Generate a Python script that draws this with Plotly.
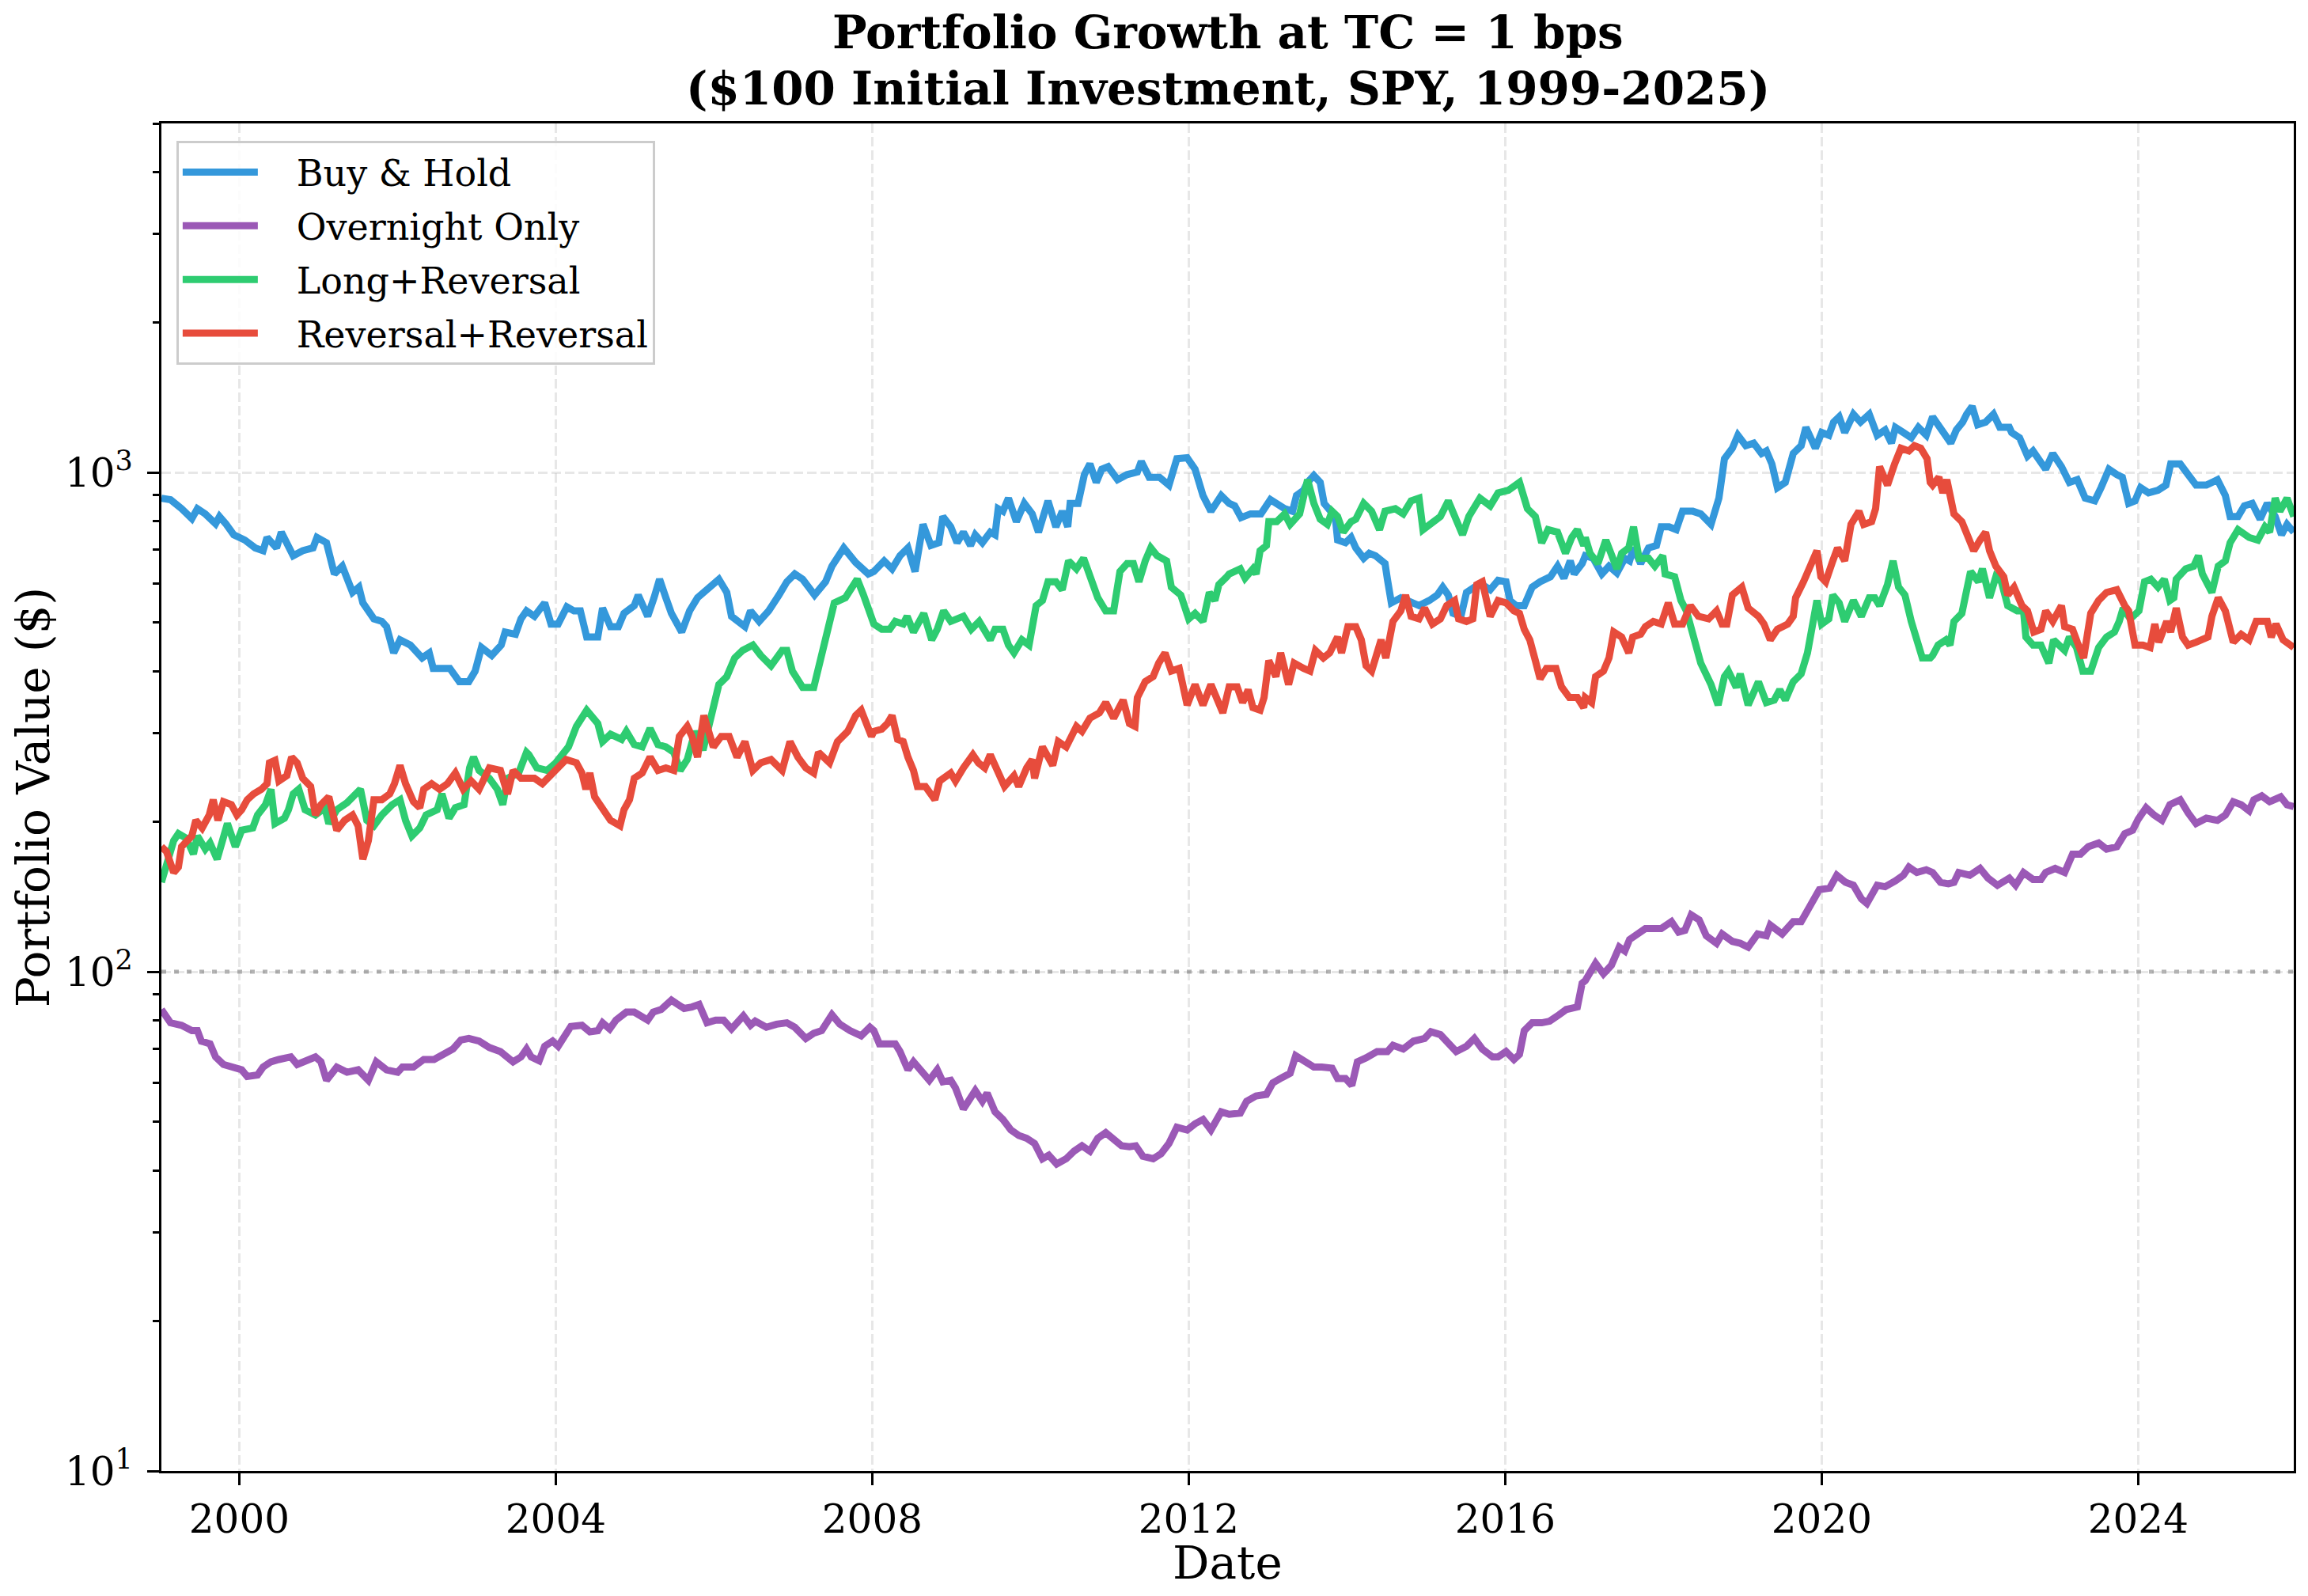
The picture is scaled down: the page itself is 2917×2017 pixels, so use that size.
import math
import pandas as pd
import plotly.graph_objects as go

# ---------------- data (decimal year, portfolio value $) ----------------
BUY_HOLD = [
    (1999.015, 888), (1999.13, 882), (1999.27, 846), (1999.40, 808), (1999.47, 846), (1999.57, 826), (1999.70, 789),
    (1999.75, 816), (1999.83, 789), (1999.93, 750), (2000.07, 732), (2000.20, 706), (2000.30, 697), (2000.35, 741),
    (2000.47, 706), (2000.53, 759), (2000.68, 681), (2000.80, 697), (2000.93, 706), (2000.98, 741), (2001.10, 723),
    (2001.20, 626), (2001.30, 649), (2001.43, 575), (2001.51, 589), (2001.56, 548), (2001.70, 509), (2001.80, 503),
    (2001.86, 491), (2001.95, 435), (2002.03, 462), (2002.16, 451), (2002.31, 425), (2002.40, 435), (2002.45, 405),
    (2002.56, 405), (2002.66, 405), (2002.78, 381), (2002.90, 381), (2002.98, 400), (2003.06, 446), (2003.19, 430),
    (2003.31, 451), (2003.36, 479), (2003.49, 474), (2003.56, 509), (2003.63, 528),
    (2003.73, 515), (2003.86, 548), (2003.94, 497), (2004.03, 497), (2004.14, 538), (2004.23, 528), (2004.31, 528),
    (2004.39, 468), (2004.53, 468), (2004.59, 535), (2004.69, 491), (2004.79, 491), (2004.86, 522), (2004.99, 541),
    (2005.04, 568), (2005.16, 515), (2005.24, 561), (2005.31, 611), (2005.39, 561), (2005.46, 522), (2005.59, 479),
    (2005.69, 528), (2005.79, 561), (2005.92, 582), (2006.06, 611), (2006.16, 575), (2006.22, 515), (2006.39, 491),
    (2006.46, 528), (2006.57, 503), (2006.69, 528), (2006.82, 568), (2006.92, 604), (2007.02, 626), (2007.12, 611),
    (2007.27, 568), (2007.41, 604), (2007.49, 649), (2007.64, 706), (2007.79, 660), (2007.95, 626),
    (2008.02, 633), (2008.15, 665), (2008.25, 641), (2008.35, 681), (2008.45, 706), (2008.54, 633), (2008.64, 787),
    (2008.74, 714), (2008.84, 723), (2008.89, 816), (2008.99, 778), (2009.07, 723), (2009.15, 759), (2009.24, 714),
    (2009.30, 750), (2009.39, 723), (2009.49, 759), (2009.55, 750), (2009.59, 846), (2009.65, 836), (2009.72, 888),
    (2009.82, 797), (2009.92, 867), (2010.02, 826), (2010.10, 759), (2010.22, 877), (2010.32, 778), (2010.40, 836),
    (2010.47, 778), (2010.50, 867), (2010.60, 867), (2010.68, 990), (2010.75, 1040), (2010.83, 955), (2010.90, 1015),
    (2010.98, 1027), (2011.10, 967), (2011.22, 990), (2011.35, 1002), (2011.40, 1052), (2011.50, 978), (2011.63, 978),
    (2011.75, 943), (2011.85, 1065), (2011.98, 1070), (2012.08, 1015), (2012.18, 899), (2012.28, 836), (2012.41, 899),
    (2012.51, 867), (2012.58, 857), (2012.66, 812), (2012.78, 826), (2012.91, 826), (2013.03, 882), (2013.10, 867),
    (2013.21, 846), (2013.31, 836), (2013.36, 899), (2013.45, 921), (2013.50, 955), (2013.58, 986), (2013.66, 955),
    (2013.71, 867), (2013.78, 836), (2013.85, 816), (2013.88, 732), (2013.98, 723), (2014.05, 741), (2014.11, 706),
    (2014.21, 673), (2014.28, 689), (2014.36, 681), (2014.48, 657), (2014.51, 611), (2014.56, 548), (2014.68, 561),
    (2014.81, 548), (2014.91, 541), (2015.04, 554), (2015.14, 568), (2015.21, 589), (2015.28, 568), (2015.34, 522),
    (2015.44, 515), (2015.51, 575), (2015.61, 589), (2015.71, 596), (2015.81, 582), (2015.91, 608), (2016.01, 604),
    (2016.06, 554), (2016.14, 541), (2016.24, 541), (2016.34, 589), (2016.44, 604), (2016.57, 618), (2016.66, 649),
    (2016.74, 614), (2016.82, 665), (2016.87, 626), (2016.97, 657),
    (2017.01, 681), (2017.11, 673), (2017.22, 626), (2017.31, 649), (2017.41, 629), (2017.51, 673), (2017.57, 665),
    (2017.62, 706), (2017.71, 657), (2017.81, 706), (2017.91, 714), (2017.97, 778), (2018.07, 778), (2018.16, 768),
    (2018.24, 836), (2018.37, 836), (2018.47, 826), (2018.60, 787), (2018.70, 888), (2018.77, 1065), (2018.87, 1118),
    (2018.94, 1187), (2019.04, 1131), (2019.14, 1145), (2019.24, 1091), (2019.30, 1104), (2019.37, 1040), (2019.44, 932),
    (2019.54, 955), (2019.64, 1091), (2019.74, 1131), (2019.80, 1231), (2019.92, 1118), (2020.00, 1202), (2020.09, 1187),
    (2020.15, 1261), (2020.22, 1292), (2020.29, 1202), (2020.40, 1308), (2020.49, 1261), (2020.60, 1308), (2020.70, 1187),
    (2020.80, 1216), (2020.88, 1145), (2020.93, 1231), (2021.03, 1202), (2021.13, 1173), (2021.22, 1231), (2021.32, 1187),
    (2021.40, 1292), (2021.47, 1246), (2021.55, 1202), (2021.63, 1145), (2021.70, 1216), (2021.78, 1261), (2021.83, 1308),
    (2021.90, 1356), (2021.97, 1246), (2022.07, 1261), (2022.17, 1308), (2022.25, 1231), (2022.37, 1231), (2022.40, 1202),
    (2022.50, 1173), (2022.60, 1078), (2022.67, 1104), (2022.77, 1040), (2022.83, 1015), (2022.92, 1091), (2023.03, 1027),
    (2023.13, 955), (2023.23, 967), (2023.33, 888), (2023.45, 877), (2023.53, 932), (2023.63, 1015), (2023.73, 990),
    (2023.80, 978), (2023.88, 867), (2023.96, 877), (2024.03, 932), (2024.13, 910), (2024.25, 921), (2024.35, 943),
    (2024.41, 1040), (2024.53, 1040), (2024.63, 990), (2024.73, 943), (2024.86, 943), (2025.00, 967), (2025.10, 899),
    (2025.16, 816), (2025.26, 816), (2025.34, 857), (2025.44, 867), (2025.54, 806), (2025.63, 867), (2025.73, 816),
    (2025.81, 750), (2025.88, 787), (2025.965, 759),
]

OVERNIGHT = [
    (1999.015, 84.0), (1999.13, 79.0), (1999.27, 78.1), (1999.40, 76.2), (1999.47, 76.2), (1999.52, 72.6), (1999.63, 71.7),
    (1999.70, 67.5), (1999.80, 65.2), (1999.93, 64.4), (2000.03, 63.6), (2000.10, 61.7), (2000.23, 62.1), (2000.30, 64.4),
    (2000.40, 66.0), (2000.50, 66.7), (2000.65, 67.5), (2000.73, 65.2), (2000.86, 66.3), (2000.96, 67.5), (2001.03, 66.0),
    (2001.10, 60.6), (2001.23, 64.4), (2001.36, 62.9), (2001.50, 63.6), (2001.63, 60.6), (2001.73, 66.0), (2001.86, 63.6),
    (2002.00, 62.9), (2002.06, 64.4), (2002.20, 64.4), (2002.33, 66.7), (2002.46, 66.7), (2002.56, 68.3), (2002.70, 70.0),
    (2002.80, 73.0), (2002.90, 73.5), (2003.03, 72.6), (2003.16, 70.5), (2003.30, 69.2), (2003.46, 66.0), (2003.56, 67.5),
    (2003.63, 70.0),
    (2003.69, 67.5), (2003.79, 66.3), (2003.86, 70.9), (2003.96, 72.6), (2004.03, 70.9), (2004.13, 75.3), (2004.19, 77.7),
    (2004.33, 78.1), (2004.43, 75.8), (2004.53, 76.2), (2004.59, 79.0), (2004.68, 76.8), (2004.76, 80.0), (2004.89, 83.0),
    (2004.99, 83.0), (2005.16, 80.0), (2005.23, 83.0), (2005.33, 84.0), (2005.46, 87.7), (2005.52, 86.4), (2005.62, 84.4),
    (2005.72, 85.0), (2005.81, 86.0), (2005.91, 79.0), (2006.02, 80.0), (2006.12, 80.0), (2006.22, 76.8), (2006.37, 81.6),
    (2006.46, 78.1), (2006.52, 79.6), (2006.66, 77.4), (2006.79, 78.5), (2006.92, 79.0), (2007.02, 77.4), (2007.16, 73.5),
    (2007.26, 75.3), (2007.36, 76.2), (2007.49, 82.0), (2007.59, 78.5), (2007.72, 76.2), (2007.86, 74.4), (2007.97, 77.4),
    (2008.02, 76.2), (2008.09, 71.7), (2008.19, 71.7), (2008.29, 71.7), (2008.35, 69.2), (2008.45, 63.6), (2008.52, 66.0),
    (2008.62, 63.6), (2008.72, 60.6), (2008.82, 63.6), (2008.89, 60.2), (2008.99, 60.6), (2009.05, 58.5), (2009.15, 53.1),
    (2009.25, 55.7), (2009.30, 57.8), (2009.39, 55.0), (2009.45, 57.1), (2009.55, 52.4), (2009.65, 50.6), (2009.75, 48.2),
    (2009.85, 47.0), (2009.95, 46.4), (2010.05, 45.3), (2010.15, 42.2), (2010.23, 42.9), (2010.33, 41.2), (2010.45, 42.2),
    (2010.55, 43.7), (2010.65, 44.8), (2010.75, 43.7), (2010.85, 46.4), (2010.95, 47.6), (2011.05, 46.4), (2011.15, 44.8),
    (2011.25, 44.6), (2011.33, 44.8), (2011.42, 42.7), (2011.55, 42.2), (2011.65, 43.2), (2011.75, 45.3), (2011.85, 48.8),
    (2011.98, 48.2), (2012.08, 49.6), (2012.18, 50.6), (2012.28, 48.2), (2012.41, 52.4),
    (2012.51, 51.8), (2012.65, 52.1), (2012.73, 55.0), (2012.85, 56.4), (2012.98, 56.8), (2013.06, 59.9), (2013.18, 61.4),
    (2013.28, 62.6), (2013.35, 67.9), (2013.48, 66.0), (2013.58, 64.4), (2013.68, 64.4), (2013.81, 64.1), (2013.88, 61.1),
    (2013.98, 61.1), (2014.06, 59.2), (2014.13, 66.0), (2014.24, 67.2), (2014.38, 69.2), (2014.51, 69.2), (2014.58, 71.2),
    (2014.71, 70.0), (2014.84, 72.6), (2014.98, 73.5), (2015.06, 75.8), (2015.18, 74.8), (2015.28, 71.7), (2015.38, 69.2),
    (2015.51, 70.9), (2015.61, 73.5), (2015.71, 70.0), (2015.84, 67.5), (2015.91, 67.5), (2016.01, 69.2), (2016.11, 66.7),
    (2016.18, 68.3), (2016.24, 76.2), (2016.34, 79.0), (2016.46, 79.0), (2016.56, 79.6), (2016.68, 82.0), (2016.77, 84.0),
    (2016.91, 85.0), (2016.97, 94.8),
    (2017.01, 96.0), (2017.14, 104), (2017.24, 99.0), (2017.34, 103), (2017.44, 112), (2017.51, 110), (2017.57, 116),
    (2017.67, 119), (2017.77, 122), (2017.87, 122), (2017.97, 122), (2018.10, 126), (2018.19, 120), (2018.27, 121),
    (2018.35, 130), (2018.45, 127), (2018.54, 118), (2018.67, 114), (2018.74, 119), (2018.87, 115), (2018.97, 114),
    (2019.07, 112), (2019.19, 119), (2019.30, 118), (2019.35, 124), (2019.50, 119), (2019.64, 126), (2019.74, 126),
    (2019.87, 136), (2019.97, 146), (2020.10, 147), (2020.19, 156), (2020.30, 151), (2020.40, 149), (2020.50, 140),
    (2020.57, 137), (2020.70, 149), (2020.80, 148), (2020.93, 152), (2021.03, 156), (2021.10, 162), (2021.20, 158),
    (2021.32, 160),
    (2021.40, 158), (2021.50, 151), (2021.60, 150), (2021.67, 151), (2021.73, 158), (2021.87, 156), (2022.00, 161),
    (2022.10, 154), (2022.22, 149), (2022.37, 154), (2022.45, 149), (2022.55, 158), (2022.67, 153), (2022.77, 153),
    (2022.83, 158), (2022.95, 161), (2023.07, 158), (2023.17, 172), (2023.27, 172), (2023.37, 178), (2023.50, 181),
    (2023.60, 176), (2023.73, 178), (2023.83, 189), (2023.93, 192), (2024.00, 202), (2024.10, 213), (2024.20, 206),
    (2024.30, 201), (2024.40, 216), (2024.53, 221), (2024.63, 208), (2024.73, 198), (2024.86, 203), (2025.00, 201),
    (2025.10, 206), (2025.20, 219), (2025.30, 216), (2025.40, 210), (2025.46, 221), (2025.56, 225), (2025.66, 219),
    (2025.80, 224), (2025.88, 216), (2025.965, 214),
]

LONG_REV = [
    (1999.015, 151), (1999.08, 162), (1999.17, 183), (1999.23, 189), (1999.33, 185), (1999.42, 172), (1999.47, 187),
    (1999.57, 176), (1999.63, 181), (1999.72, 168), (1999.80, 185), (1999.85, 198), (1999.95, 178), (2000.03, 192),
    (2000.17, 194), (2000.23, 206), (2000.33, 216), (2000.40, 232), (2000.45, 198), (2000.57, 203), (2000.62, 211),
    (2000.68, 227), (2000.75, 232), (2000.83, 211), (2000.96, 206), (2001.08, 213), (2001.13, 198), (2001.23, 211),
    (2001.36, 218), (2001.53, 232), (2001.61, 201), (2001.70, 196), (2001.80, 206), (2001.93, 216), (2002.03, 221),
    (2002.10, 201), (2002.18, 187), (2002.28, 194), (2002.36, 206), (2002.50, 211), (2002.56, 227), (2002.65, 203),
    (2002.73, 213), (2002.84, 216), (2002.91, 256), (2002.96, 269), (2003.03, 253), (2003.16, 244), (2003.26, 232),
    (2003.33, 216), (2003.39, 244), (2003.53, 250), (2003.63, 275),
    (2003.66, 272), (2003.76, 256), (2003.89, 253), (2004.00, 262), (2004.09, 272), (2004.16, 282), (2004.26, 310),
    (2004.39, 334), (2004.53, 314), (2004.59, 289), (2004.69, 299), (2004.83, 292), (2004.89, 303), (2004.99, 285),
    (2005.09, 282), (2005.19, 307), (2005.29, 285), (2005.39, 282), (2005.49, 275), (2005.57, 253), (2005.66, 266),
    (2005.76, 303), (2005.86, 278), (2005.96, 326), (2006.06, 376), (2006.16, 390), (2006.26, 425), (2006.36, 440),
    (2006.49, 451), (2006.59, 430), (2006.72, 410), (2006.86, 440), (2006.92, 440), (2006.99, 400), (2007.12, 371),
    (2007.26, 371), (2007.36, 430), (2007.46, 509), (2007.52, 548), (2007.66, 561), (2007.81, 611), (2007.89, 568),
    (2007.99, 515),
    (2008.02, 497), (2008.12, 485), (2008.22, 485), (2008.29, 503), (2008.39, 497), (2008.44, 515), (2008.52, 479),
    (2008.65, 522), (2008.75, 462), (2008.82, 485), (2008.90, 528), (2008.99, 503), (2009.09, 509), (2009.15, 515),
    (2009.25, 485), (2009.35, 503), (2009.49, 462), (2009.55, 485), (2009.65, 485), (2009.72, 451), (2009.79, 435),
    (2009.89, 462), (2009.98, 451), (2010.03, 491), (2010.07, 541), (2010.15, 554), (2010.22, 604), (2010.32, 604),
    (2010.40, 582), (2010.48, 665), (2010.58, 641), (2010.67, 673), (2010.75, 618), (2010.85, 561), (2010.95, 528),
    (2011.05, 528), (2011.13, 633), (2011.22, 657), (2011.30, 657), (2011.37, 604), (2011.45, 665), (2011.52, 706),
    (2011.60, 681), (2011.72, 665), (2011.78, 589), (2011.90, 568), (2012.00, 509), (2012.08, 522), (2012.18, 503),
    (2012.26, 575), (2012.33, 554), (2012.38, 596), (2012.48, 618),
    (2012.51, 626), (2012.65, 641), (2012.71, 614), (2012.81, 641), (2012.85, 626), (2012.90, 697), (2012.98, 714),
    (2013.01, 797), (2013.11, 797), (2013.21, 826), (2013.28, 787), (2013.40, 826), (2013.50, 967), (2013.58, 867),
    (2013.66, 806), (2013.75, 787), (2013.81, 836), (2013.88, 816), (2013.95, 759), (2014.05, 797), (2014.11, 806),
    (2014.21, 867), (2014.31, 836), (2014.41, 768), (2014.48, 836), (2014.61, 846), (2014.71, 826), (2014.81, 877),
    (2014.91, 888), (2014.96, 768), (2015.08, 797), (2015.18, 816), (2015.28, 877), (2015.38, 806), (2015.46, 750),
    (2015.54, 816), (2015.68, 888), (2015.81, 857), (2015.91, 910), (2016.04, 921), (2016.18, 955), (2016.28, 846),
    (2016.38, 816), (2016.46, 723), (2016.54, 768), (2016.66, 759), (2016.76, 689), (2016.84, 741), (2016.91, 768),
    (2016.99, 714),
    (2017.01, 741), (2017.07, 689), (2017.17, 657), (2017.27, 732), (2017.41, 641), (2017.47, 689), (2017.56, 706),
    (2017.62, 778), (2017.69, 673), (2017.81, 673), (2017.89, 649), (2017.99, 681), (2018.02, 626), (2018.14, 618),
    (2018.22, 554), (2018.29, 528), (2018.37, 468), (2018.47, 415), (2018.60, 376), (2018.69, 342), (2018.77, 390),
    (2018.82, 400), (2018.92, 371), (2018.97, 395), (2019.07, 342), (2019.20, 381), (2019.30, 346), (2019.40, 350),
    (2019.47, 367), (2019.54, 350), (2019.64, 381), (2019.74, 395), (2019.82, 435), (2019.90, 522), (2019.94, 554),
    (2020.00, 497), (2020.09, 509), (2020.14, 568), (2020.22, 548), (2020.29, 503), (2020.40, 554), (2020.50, 515),
    (2020.60, 561), (2020.67, 561), (2020.73, 541), (2020.83, 596), (2020.90, 665), (2020.97, 589), (2021.05, 568),
    (2021.13, 503), (2021.22, 451), (2021.27, 425), (2021.37, 425),
    (2021.40, 430), (2021.47, 451), (2021.57, 462), (2021.62, 451), (2021.67, 503), (2021.77, 522), (2021.82, 582),
    (2021.88, 633), (2021.98, 604), (2022.03, 641), (2022.12, 561), (2022.20, 618), (2022.27, 604), (2022.35, 541),
    (2022.47, 528), (2022.55, 528), (2022.58, 468), (2022.67, 451), (2022.77, 451), (2022.87, 415), (2022.93, 462),
    (2023.07, 440), (2023.13, 468), (2023.22, 446), (2023.30, 400), (2023.40, 400), (2023.50, 446), (2023.60, 468),
    (2023.70, 479), (2023.76, 503), (2023.81, 535), (2023.90, 509), (2024.01, 528), (2024.08, 604), (2024.16, 611),
    (2024.25, 589), (2024.33, 611), (2024.40, 554), (2024.45, 561), (2024.48, 611), (2024.60, 641), (2024.70, 649),
    (2024.76, 681), (2024.81, 626), (2024.93, 575), (2025.01, 649), (2025.10, 665), (2025.16, 723), (2025.26, 768),
    (2025.40, 741), (2025.51, 732), (2025.60, 778), (2025.66, 759), (2025.73, 888), (2025.79, 836), (2025.88, 888),
    (2025.965, 816),
]

REV_REV = [
    (1999.015, 178), (1999.08, 174), (1999.17, 158), (1999.23, 162), (1999.27, 178), (1999.33, 183), (1999.40, 187),
    (1999.45, 201), (1999.53, 194), (1999.62, 206), (1999.67, 221), (1999.73, 201), (1999.80, 219), (1999.90, 216),
    (1999.97, 206), (2000.03, 211), (2000.10, 221), (2000.18, 227), (2000.28, 232), (2000.35, 238), (2000.38, 262),
    (2000.45, 265), (2000.50, 241), (2000.60, 247), (2000.66, 269), (2000.73, 262), (2000.80, 244), (2000.90, 235),
    (2000.96, 206), (2001.03, 216), (2001.13, 224), (2001.23, 192), (2001.33, 201), (2001.43, 206), (2001.50, 196),
    (2001.56, 168), (2001.63, 183), (2001.70, 221), (2001.80, 221), (2001.90, 227), (2001.96, 238), (2002.03, 259),
    (2002.10, 238), (2002.20, 219), (2002.28, 213), (2002.33, 232), (2002.43, 238), (2002.53, 232), (2002.63, 238),
    (2002.73, 250), (2002.83, 232), (2002.93, 241), (2003.03, 232), (2003.16, 256), (2003.30, 253), (2003.39, 227),
    (2003.46, 253), (2003.56, 244), (2003.63, 244),
    (2003.73, 244), (2003.83, 238), (2003.93, 247), (2004.03, 256), (2004.13, 266), (2004.26, 262), (2004.33, 250),
    (2004.38, 232), (2004.43, 250), (2004.49, 224), (2004.59, 211), (2004.69, 201), (2004.81, 196), (2004.86, 211),
    (2004.93, 221), (2004.99, 244), (2005.09, 250), (2005.19, 269), (2005.29, 253), (2005.39, 256), (2005.49, 253),
    (2005.56, 296), (2005.66, 310), (2005.72, 296), (2005.79, 269), (2005.87, 326), (2005.99, 282), (2006.09, 296),
    (2006.19, 296), (2006.29, 269), (2006.39, 289), (2006.49, 253), (2006.59, 262), (2006.72, 266), (2006.86, 253),
    (2006.96, 289), (2007.06, 269), (2007.16, 256), (2007.26, 250), (2007.32, 275), (2007.46, 262), (2007.56, 289),
    (2007.69, 303), (2007.79, 326), (2007.86, 334), (2007.99, 296),
    (2008.02, 303), (2008.12, 306), (2008.19, 314), (2008.25, 326), (2008.32, 292), (2008.39, 289), (2008.45, 269),
    (2008.52, 253), (2008.57, 235), (2008.67, 235), (2008.79, 221), (2008.85, 241), (2008.99, 250), (2009.05, 241),
    (2009.15, 256), (2009.27, 272), (2009.34, 262), (2009.42, 256), (2009.49, 272), (2009.57, 253), (2009.67, 235),
    (2009.79, 247), (2009.85, 235), (2009.95, 256), (2010.02, 266), (2010.05, 244), (2010.15, 282), (2010.28, 259),
    (2010.35, 289), (2010.45, 282), (2010.58, 310), (2010.65, 303), (2010.75, 322), (2010.87, 330), (2010.95, 346),
    (2011.05, 322), (2011.17, 350), (2011.25, 314), (2011.32, 310), (2011.35, 354), (2011.45, 381), (2011.55, 390),
    (2011.62, 415), (2011.70, 435), (2011.78, 400), (2011.88, 405), (2011.98, 342), (2012.08, 376), (2012.18, 342),
    (2012.28, 376), (2012.43, 330),
    (2012.51, 372), (2012.61, 372), (2012.68, 346), (2012.75, 367), (2012.81, 338), (2012.90, 334), (2012.95, 354),
    (2013.01, 420), (2013.10, 390), (2013.16, 435), (2013.26, 376), (2013.33, 415), (2013.45, 405), (2013.53, 400),
    (2013.60, 440), (2013.70, 425), (2013.78, 435), (2013.88, 468), (2013.93, 435), (2014.01, 491), (2014.11, 491),
    (2014.18, 462), (2014.24, 410), (2014.31, 400), (2014.43, 462), (2014.49, 425), (2014.58, 503), (2014.68, 528),
    (2014.74, 568), (2014.81, 515), (2014.91, 509), (2014.98, 535), (2015.08, 497), (2015.18, 509), (2015.26, 541),
    (2015.36, 554), (2015.41, 509), (2015.51, 503), (2015.59, 509), (2015.64, 596), (2015.71, 604), (2015.81, 515),
    (2015.91, 554), (2016.01, 548), (2016.11, 528), (2016.18, 522), (2016.24, 485), (2016.31, 462), (2016.38, 420),
    (2016.44, 386), (2016.52, 405), (2016.64, 405), (2016.71, 372), (2016.81, 354), (2016.91, 354), (2016.99, 338),
    (2017.01, 354), (2017.09, 346), (2017.14, 390), (2017.24, 400), (2017.31, 425), (2017.37, 479), (2017.47, 468),
    (2017.56, 435), (2017.61, 468), (2017.71, 474), (2017.77, 491), (2017.87, 503), (2017.97, 497), (2018.06, 548),
    (2018.14, 497), (2018.24, 497), (2018.34, 541), (2018.44, 515), (2018.57, 509), (2018.67, 528), (2018.74, 497),
    (2018.80, 497), (2018.87, 568), (2018.99, 589), (2019.07, 535), (2019.20, 515), (2019.27, 497), (2019.35, 462),
    (2019.44, 485), (2019.57, 497), (2019.64, 515), (2019.67, 561), (2019.77, 604), (2019.84, 641), (2019.94, 697),
    (2019.99, 618), (2020.05, 604), (2020.14, 665), (2020.20, 706), (2020.29, 665), (2020.37, 787), (2020.47, 836),
    (2020.53, 787), (2020.63, 797), (2020.68, 846), (2020.73, 1027), (2020.83, 943), (2020.92, 1040), (2021.00, 1118),
    (2021.10, 1104), (2021.17, 1131), (2021.25, 1118), (2021.33, 1065), (2021.37, 955),
    (2021.40, 943), (2021.48, 978), (2021.53, 910), (2021.58, 967), (2021.63, 888), (2021.67, 826), (2021.77, 797),
    (2021.83, 759), (2021.92, 697), (2022.00, 732), (2022.07, 759), (2022.12, 697), (2022.20, 649), (2022.30, 618),
    (2022.35, 568), (2022.43, 589), (2022.53, 541), (2022.60, 528), (2022.68, 479), (2022.77, 485), (2022.83, 528),
    (2022.92, 503), (2023.03, 541), (2023.07, 491), (2023.17, 485), (2023.23, 457), (2023.31, 425), (2023.40, 522),
    (2023.50, 554), (2023.60, 575), (2023.73, 582), (2023.83, 541), (2023.88, 528), (2023.96, 451), (2024.06, 451),
    (2024.15, 446), (2024.21, 497), (2024.26, 457), (2024.36, 503), (2024.41, 479), (2024.48, 535), (2024.56, 468),
    (2024.63, 451), (2024.73, 457), (2024.80, 462), (2024.88, 468), (2024.93, 515), (2025.01, 561), (2025.10, 528),
    (2025.20, 457), (2025.30, 474), (2025.40, 462), (2025.49, 503), (2025.63, 503), (2025.68, 468), (2025.74, 497),
    (2025.83, 462), (2025.965, 446),
]

SERIES_NAMES = ["Buy & Hold", "Overnight Only", "Long+Reversal", "Reversal+Reversal"]
SERIES_COLORS = ["#3498db", "#9b59b6", "#2ecc71", "#e74c3c"]
INITIAL = 100
Y_LIMITS = [10, 5000]
X_TICK_YEARS = [2000, 2004, 2008, 2012, 2016, 2020, 2024]
Y_TICKS = [10, 100, 1000]
Y_TICK_TEXT = ["10<sup>1</sup>", "10<sup>2</sup>", "10<sup>3</sup>"]


def to_date(y):
    yr = int(y)
    start = pd.Timestamp(yr, 1, 1)
    end = pd.Timestamp(yr + 1, 1, 1)
    return start + (end - start) * (y - yr)


FONT = "DejaVu Serif"
# the page body adds an 8px margin, so the figure is sized to fit the window
W, H = 2901, 2001
ML, MR, MT, MB = 195, 7, 148, 150
PH = H - MT - MB

fig = go.Figure()

all_dates = []
series = [BUY_HOLD, OVERNIGHT, LONG_REV, REV_REV]
parsed = []
for s in series:
    d = [to_date(p[0]) for p in s]
    v = [p[1] for p in s]
    parsed.append((d, v))
    all_dates.extend(d)
xmin, xmax = min(all_dates), max(all_dates)

# reference line at the initial investment
fig.add_trace(go.Scatter(x=[xmin, xmax], y=[INITIAL, INITIAL], mode="lines",
                         line=dict(color="rgba(128,128,128,0.6)", width=5, dash="6px,10px"),
                         showlegend=False, hoverinfo="skip"))

NBSP = "\u00a0"
for i, ((d, v), name, col) in enumerate(zip(parsed, SERIES_NAMES, SERIES_COLORS)):
    fig.add_trace(go.Scatter(x=d, y=v, mode="lines", name=NBSP * 3 + name,
                             legendgroup=f"g{i}",
                             line=dict(color=col, width=9)))

minor_vals = [m * 10 ** e for e in range(1, 4) for m in range(2, 10) if m * 10 ** e <= Y_LIMITS[1]]

fig.update_layout(
    width=W, height=H,
    margin=dict(l=ML, r=MR, t=MT, b=MB),
    paper_bgcolor="white", plot_bgcolor="white",
    font=dict(family=FONT, color="black"),
    showlegend=True,
    legend=dict(x=0.007, y=0.987, xanchor="left", yanchor="top",
                bgcolor="rgba(255,255,255,0.85)", bordercolor="#cccccc", borderwidth=3,
                font=dict(family=FONT, size=46, color="black"), itemwidth=95,
                tracegroupgap=5),
    xaxis=dict(
        type="date", range=[xmin, xmax],
        tickvals=[pd.Timestamp(y, 1, 1) for y in X_TICK_YEARS],
        ticktext=[str(y) for y in X_TICK_YEARS],
        ticks="outside", ticklen=15, tickwidth=3.3, tickcolor="black",
        tickfont=dict(family=FONT, size=50, color="black"),
        showline=True, linewidth=3.3, linecolor="black", mirror=True,
        showgrid=True, gridcolor="rgba(176,176,176,0.3)", gridwidth=3.3, griddash="12px,5px",
        zeroline=False, ticklabelstandoff=0,
    ),
    yaxis=dict(
        type="log", range=[math.log10(Y_LIMITS[0]), math.log10(Y_LIMITS[1])],
        tickvals=Y_TICKS, ticktext=Y_TICK_TEXT,
        ticks="outside", ticklen=15, tickwidth=3.3, tickcolor="black",
        tickfont=dict(family=FONT, size=50, color="black"),
        showline=True, linewidth=3.3, linecolor="black", mirror=True,
        showgrid=True, gridcolor="rgba(176,176,176,0.3)", gridwidth=3.3, griddash="12px,5px",
        zeroline=False, ticklabelstandoff=8,
        minor=dict(tickvals=minor_vals, ticks="outside", ticklen=8, tickwidth=2.5,
                   tickcolor="black", showgrid=False),
        title=dict(text="Portfolio Value ($)", font=dict(family=FONT, size=58, color="black"), standoff=26),
    ),
    annotations=[
        dict(text="<b>Portfolio Growth at TC = 1 bps</b>", xref="paper", yref="paper",
             x=0.5, y=1 + 115 / PH, xanchor="center", yanchor="middle", showarrow=False,
             font=dict(family=FONT, size=58, color="black")),
        dict(text="<b>($100 Initial Investment, SPY, 1999-2025)</b>", xref="paper", yref="paper",
             x=0.5, y=1 + 44 / PH, xanchor="center", yanchor="middle", showarrow=False,
             font=dict(family=FONT, size=58, color="black")),
        dict(text="Date", xref="paper", yref="paper",
             x=0.5, y=-116 / PH, xanchor="center", yanchor="middle", showarrow=False,
             font=dict(family=FONT, size=58, color="black")),
    ],
)

fig.write_html("out.html")
